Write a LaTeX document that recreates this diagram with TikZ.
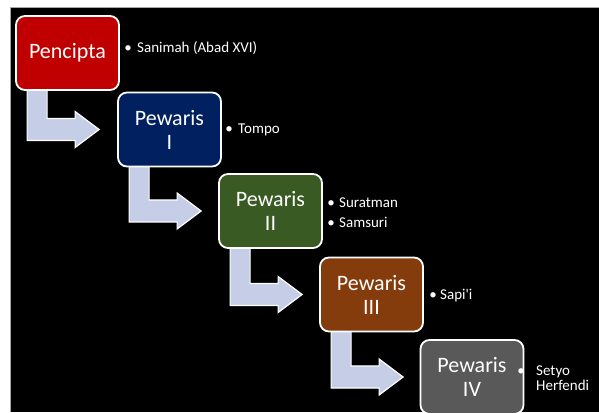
\documentclass[tikz,border=0pt]{standalone}
\usepackage{fontspec}
\setmainfont{Carlito}[Ligatures=TeXOff]
\usetikzlibrary{calc,backgrounds}
\definecolor{cRed}{HTML}{C00000}
\definecolor{cNavy}{HTML}{002060}
\definecolor{cGreen}{HTML}{3A5A24}
\definecolor{cBrown}{HTML}{843C0C}
\definecolor{cGray}{HTML}{595959}
\definecolor{cArrow}{RGB}{197,206,230}
\begin{document}
\begin{tikzpicture}[x=1pt,y=1pt,
  stagebox/.style={draw=white, line width=1.8pt, rounded corners=9pt,
    minimum width=103pt, minimum height=74pt, inner sep=0pt, align=center,
    text=white, font=\fontsize{22}{24}\selectfont},
  bendarrow/.style={fill=cArrow, draw=white, line width=1.2pt, line join=miter},
  item/.style={anchor=base west, inner sep=0pt, text=white, font=\fontsize{15}{15}\selectfont}]
\useasboundingbox (0,0) rectangle (599,412);
% boxes
\node[stagebox, fill=cRed]   (b0) at (67.5,359)  {Pencipta};
\node[stagebox, fill=cNavy]  (b1) at (169.5,282.5) {Pewaris\\I};
\node[stagebox, fill=cGreen] (b2) at (270.5,201)  {Pewaris\\II};
\node[stagebox, fill=cBrown] (b3) at (371.5,117.5) {Pewaris\\III};
\node[stagebox, fill=cGray]  (b4) at (472,35)     {Pewaris\\IV};
% side texts
\node[item] (t0) at (137,359.5) {\llap{\makebox[18pt]{•}}Sanimah (Abad XVI)};
\node[item] (t1) at (238,278.5) {\llap{\makebox[18pt]{•}}Tompo};
\node[item] (t2a) at (339,204.3) {\llap{\makebox[16pt]{•}}Suratman};
\node[item] (t2b) at (339,184.7) {\llap{\makebox[16pt]{•}}Samsuri};
\node[item] (t3) at (440,112.7) {\llap{\makebox[14pt]{•}}Sapi'i};
\node[item] (t4a) at (536,37) {\llap{\makebox[30pt]{•}}Setyo};
\node[item] (t4b) at (536,22) {Herfendi};
\begin{scope}[on background layer]
  \fill[white] (0,0) rectangle (599,412);
  \fill[black] (10,0) rectangle (599,405);
  \draw[gray!70, line width=0.8pt] (10,0) -- (10,405) -- (599,405);
  \foreach \a/\b in {b0/b1,b1/b2,b2/b3,b3/b4}{
    \path let \p1=(\a.south west), \p2=(\b.west) in
      [bendarrow] (\x1+12pt,\y1+6pt) -- (\x1+32pt,\y1+6pt) -- (\x1+32pt,\y2+11pt)
      -- (\x1+60pt,\y2+11pt) -- (\x1+60pt,\y2+18pt) -- (\x1+84pt,\y2)
      -- (\x1+60pt,\y2-18pt) -- (\x1+60pt,\y2-11pt) -- (\x1+12pt,\y2-11pt) -- cycle;
  }
\end{scope}
\end{tikzpicture}
\end{document}
